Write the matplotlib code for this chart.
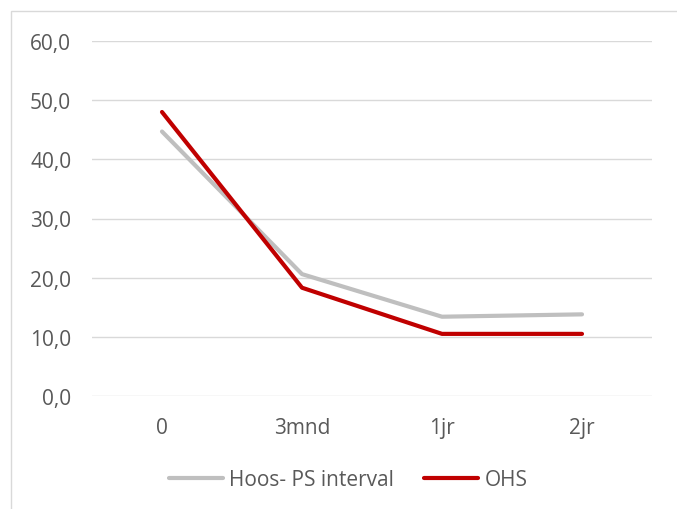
import matplotlib.pyplot as plt
from matplotlib.patches import Rectangle

plt.rcParams['font.family'] = ['Open Sans', 'DejaVu Sans']

categories = ["0", "3mnd", "1jr", "2jr"]
hoos_ps = [44.7, 20.6, 13.4, 13.8]
ohs = [48.0, 18.3, 10.5, 10.5]
y_ticks = [0, 10, 20, 30, 40, 50, 60]
y_labels = ["0,0", "10,0", "20,0", "30,0", "40,0", "50,0", "60,0"]

fig = plt.figure(figsize=(6.77, 5.10), dpi=100)
ax = fig.add_axes([92/677, 1-397/510, 560/677, 355/510])

x = range(len(categories))
ax.plot(x, hoos_ps, color="#BFBFBF", linewidth=3, solid_capstyle="round", label="Hoos- PS interval")
ax.plot(x, ohs, color="#C00000", linewidth=3, solid_capstyle="round", label="OHS")

ax.set_xlim(-0.5, len(categories) - 0.5)
ax.set_ylim(0, 60)
ax.set_xticks(list(x))
ax.set_xticklabels(categories)
ax.set_yticks(y_ticks)
ax.set_yticklabels(y_labels)
ax.tick_params(length=0, labelsize=15, colors="#595959")
ax.tick_params(axis="y", pad=15)
ax.tick_params(axis="x", pad=15)
ax.grid(axis="y", color="#D9D9D9", linewidth=1)
ax.set_axisbelow(True)
for s in ax.spines.values():
    s.set_visible(False)

# rand van de grafiek
fig.patches.append(Rectangle((11/677, -0.01), 1.0, 1-12/510+0.01, transform=fig.transFigure,
                             fill=False, edgecolor="#D9D9D9", linewidth=1))

leg = fig.legend(loc="center", bbox_to_anchor=(348/677, 1-481/510), ncol=2, frameon=False,
                 fontsize=15, handlelength=2.6, handletextpad=0.3, columnspacing=1.45)
for t in leg.get_texts():
    t.set_color("#595959")

fig.savefig("out.png", dpi=100)
